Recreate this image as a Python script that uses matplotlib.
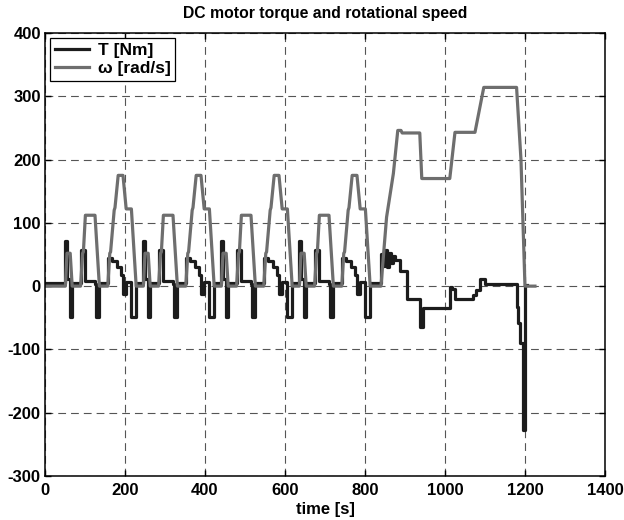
import numpy as np
import matplotlib
matplotlib.use("Agg")
import matplotlib.pyplot as plt

# --- 데이터 ---------------------------------------
# ECE 도심 사이클 한 번 (사이클 시작 기준 시간 [s])
ece_spd_t = [0, 11, 15, 23, 28, 49, 54, 56, 61, 85, 96, 117, 122, 124, 133, 135,
             143, 155, 163, 176, 188, 195]
ece_spd_w = [0, 0, 52, 52, 0, 0, 52, 54, 112, 112, 0, 0, 52, 54, 120, 124,
             175, 175, 122, 122, 0, 0]
ece_trq_t = [0, 11, 15, 23, 28, 49, 61, 85, 88, 96, 117, 128, 140, 150, 155, 163, 176, 188]
ece_trq_T = [5, 72, 12, -48, 5, 57, 8, 3, -48, 5, 45, 40, 30, 18, -13, 6, -48, 5]
ece_starts = [40, 235, 430, 625]   # 각 ECE 사이클 시작 시각

# EUDC 구간 (절대 시간 [s])
eudc_spd_t = [820, 840, 854, 871, 882, 890, 893, 937, 942, 1012, 1025, 1075, 1097,
              1179, 1190, 1200, 1225]
eudc_spd_w = [0, 0, 109, 178, 246, 246, 242, 242, 170, 170, 243, 243, 314,
              314, 200, 0, 0]
eudc_trq_t = [820, 840, 846, 850, 856, 860, 866, 870, 875, 887, 904, 937, 945, 1012,
              1017, 1025, 1071, 1078, 1087, 1100, 1179, 1182, 1187, 1195, 1200, 1204]
eudc_trq_T = [5, 50, 32, 57, 30, 52, 36, 48, 41, 24, -21, -64, -34, -2,
              -4, -21, -14, -6, 12, 3, -33, -58, -90, -227, 2, 2]

# --- 전체 시계열 조립 -----------------------------------
spd_t = [0.0]; spd_w = [0.0]
trq_t = [0.0]; trq_T = [5.0]
for t0 in ece_starts:
    spd_t += [t0 + t for t in ece_spd_t]; spd_w += ece_spd_w
    trq_t += [t0 + t for t in ece_trq_t]; trq_T += ece_trq_T
spd_t += eudc_spd_t; spd_w += eudc_spd_w
trq_t += eudc_trq_t; trq_T += eudc_trq_T

# --- 그리기 ---------------------------------------------
plt.rcParams['font.family'] = ['Liberation Sans', 'DejaVu Sans']
plt.rcParams['font.weight'] = 'bold'
plt.rcParams['axes.unicode_minus'] = False

fig = plt.figure(figsize=(6.24, 5.2), dpi=100)
ax = fig.add_axes([0.0721, 0.0846, 0.8974, 0.852])

ax.plot(trq_t, trq_T, color='#1c1c1c', lw=2.3, drawstyle='steps-post', label='T [Nm]')
ax.plot(spd_t, spd_w, color='#6e6e6e', lw=2.3, label='ω [rad/s]')

ax.set_xlim(0, 1400); ax.set_ylim(-300, 400)
ax.set_xticks(range(0, 1401, 200)); ax.set_yticks(range(-300, 401, 100))
ax.grid(True, color='#555555', lw=0.8, linestyle=(0, (7, 4.5)))
ax.tick_params(direction='in', length=4, width=1, top=True, right=True,
               labelsize=12, pad=3)
ax.tick_params(axis='x', pad=5)
for lab in ax.get_xticklabels() + ax.get_yticklabels():
    lab.set_fontweight('bold')
for s in ax.spines.values():
    s.set_linewidth(1.1)

ax.set_title('DC motor torque and rotational speed', fontsize=11.3, fontweight='bold', pad=11)
ax.set_xlabel('time [s]', fontsize=12, fontweight='bold', labelpad=3)

leg = ax.legend(loc='upper left', fancybox=False, edgecolor='black', framealpha=1,
                borderaxespad=0.3, handlelength=2.0, handletextpad=0.5,
                labelspacing=0.2, borderpad=0.25,
                prop={'weight': 'bold', 'size': 12.5})
leg.get_frame().set_linewidth(0.9)

fig.savefig('out.png', dpi=100)
